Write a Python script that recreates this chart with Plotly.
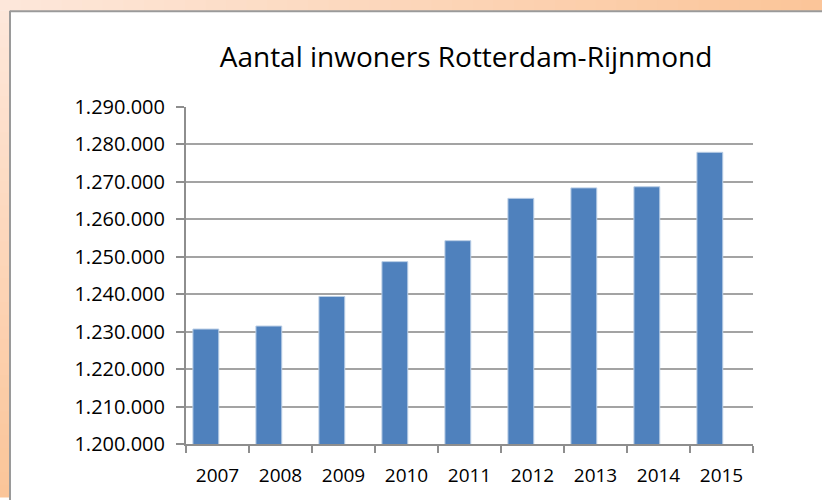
import plotly.graph_objects as go

years = ["2007", "2008", "2009", "2010", "2011", "2012", "2013", "2014", "2015"]
inwoners = [1230700, 1231500, 1239400, 1248700, 1254300, 1265600, 1268400, 1268700, 1277900]
y_ticks = list(range(1200000, 1290001, 10000))
y_labels = [f"{v:,}".replace(",", ".") for v in y_ticks]

W, H = 822, 500
L, R, T, B = 186, 69, 107, 53


def px_x(p):
    return (p - L) / (W - L - R)


def px_y(p):
    return (H - B - p) / (H - T - B)


def mix(c1, c2, t):
    return "#" + "".join(f"{round(a + (b - a) * t):02x}" for a, b in zip(c1, c2))


light = (253, 231, 218)
dark = (251, 197, 153)

fig = go.Figure()
# bars sit slightly left of the category centre, as in the original Excel chart
fig.add_trace(go.Bar(
    x=years,
    y=inwoners,
    width=0.41,
    offset=-0.39,
    marker=dict(color="#4F81BD", line=dict(color="#B9CDE5", width=1)),
    hoverinfo="x+y",
))

shapes = []
n = 40
# top strip gradient (light left -> dark right)
for i in range(n):
    x0 = W * i / n
    x1 = W * (i + 1) / n + 1
    shapes.append(dict(type="rect", xref="paper", yref="paper",
                       x0=px_x(x0), x1=px_x(x1), y0=px_y(10), y1=px_y(0) + 0.05,
                       fillcolor=mix(light, dark, i / (n - 1)), line_width=0, layer="below"))
# left strip gradient (light top -> dark bottom)
for i in range(n):
    y0 = 10 + (H - 10) * i / n
    y1 = 10 + (H - 10) * (i + 1) / n + 1
    shapes.append(dict(type="rect", xref="paper", yref="paper",
                       x0=px_x(0) - 0.05, x1=px_x(10), y0=px_y(y1), y1=px_y(y0),
                       fillcolor=mix(light, dark, i / (n - 1)), line_width=0, layer="below"))
# white chart panel with gray border
shapes.append(dict(type="line", xref="paper", yref="paper",
                   x0=px_x(10), x1=px_x(W + 5), y0=px_y(10.5), y1=px_y(10.5),
                   line=dict(color="#9A9A9A", width=2), layer="below"))
shapes.append(dict(type="line", xref="paper", yref="paper",
                   x0=px_x(10), x1=px_x(10), y0=px_y(10), y1=px_y(H + 5),
                   line=dict(color="#9A9A9A", width=2), layer="below"))

fig.update_layout(
    width=W, height=H,
    margin=dict(l=L, r=R, t=T, b=B),
    paper_bgcolor="white",
    plot_bgcolor="white",
    shapes=shapes,
    showlegend=False,
    font=dict(family="Open Sans, sans-serif", color="#000000"),
    title=dict(text="Aantal inwoners Rotterdam-Rijnmond",
               x=px_x(466), xref="paper", xanchor="center",
               y=1 - 57 / H, yref="container", yanchor="middle",
               font=dict(size=28, color="#000000")),
    xaxis=dict(
        range=[-0.5, len(years) - 0.5],
        showgrid=False,
        showline=True, linecolor="#8E8E8E", linewidth=2,
        ticks="outside", tickson="boundaries", ticklen=7, tickcolor="#8E8E8E", tickwidth=2,
        tickfont=dict(size=19),
        ticklabelstandoff=13,
    ),
    yaxis=dict(
        range=[1200000, 1290000],
        tickvals=y_ticks, ticktext=y_labels,
        showgrid=True, gridcolor="#A3A3A3", gridwidth=2,
        showline=True, linecolor="#8E8E8E", linewidth=2,
        ticks="outside", ticklen=8, tickcolor="#8E8E8E", tickwidth=2,
        tickfont=dict(size=20),
        ticklabelstandoff=7,
        zeroline=False,
    ),
)

fig.write_html("out.html", config={"displayModeBar": False},
               post_script="document.body.style.margin='0px';")
